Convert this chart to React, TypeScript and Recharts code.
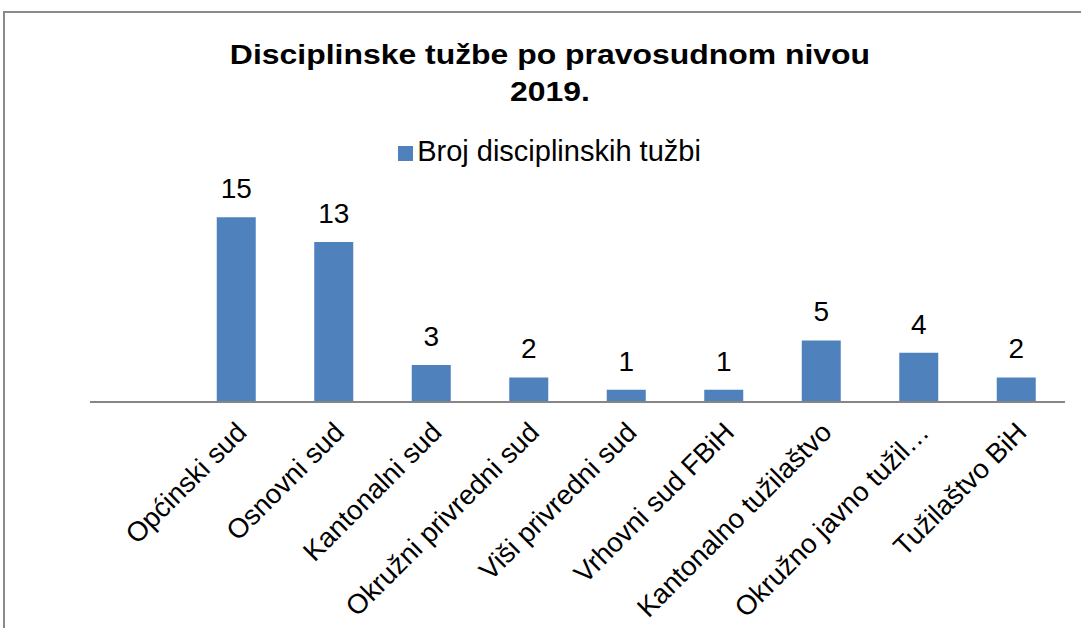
import React from "react";
import { BarChart, Bar, XAxis, YAxis, Legend, LabelList } from "recharts";

const categories = [
  "",
  "Općinski sud",
  "Osnovni sud",
  "Kantonalni sud",
  "Okružni privredni sud",
  "Viši privredni sud",
  "Vrhovni sud FBiH",
  "Kantonalno tužilaštvo",
  "Okružno javno tužil…",
  "Tužilaštvo BiH",
];
const counts = [null, 15, 13, 3, 2, 1, 1, 5, 4, 2];
const seriesName = "Broj disciplinskih tužbi";

const data = categories.map((name, i) => ({ name, value: counts[i] }));

const FONT = "'Liberation Sans', Arial, sans-serif";

function AngledTick(props: any) {
  const { x, y, payload } = props;
  return (
    <g transform={`translate(${x + 12},${y + 24})`}>
      <text
        x={0}
        y={0}
        textAnchor="end"
        transform="rotate(-45)"
        fontSize={27.5}
        fontFamily={FONT}
        fill="#000"
      >
        {payload.value}
      </text>
    </g>
  );
}

function ValueLabel(props: any) {
  const { x, y, width, value } = props;
  if (value === null || value === undefined) return null;
  return (
    <text
      x={x + width / 2}
      y={y - 19}
      textAnchor="middle"
      fontSize={28}
      fontFamily={FONT}
      fill="#000"
    >
      {value}
    </text>
  );
}

export default function App() {
  return (
    <div
      style={{
        position: "absolute",
        left: 0,
        top: 0,
        width: 1081,
        height: 628,
        overflow: "hidden",
        background: "#fff",
        fontFamily: FONT,
      }}
    >
      <div
        style={{
          position: "absolute",
          left: 3,
          top: 11,
          width: 1200,
          height: 800,
          border: "2px solid #8a8a8a",
        }}
      />
      <div
        style={{
          position: "absolute",
          left: 0,
          top: 36,
          width: 1100,
          textAlign: "center",
          fontWeight: "bold",
          fontSize: 28,
          lineHeight: "37px",
          color: "#000",
          transform: "scaleX(1.14)",
          transformOrigin: "550px 0",
        }}
      >
        Disciplinske tužbe po pravosudnom nivou
        <br />
        2019.
      </div>
      <BarChart
        width={1081}
        height={628}
        data={data}
        margin={{ top: 205, right: 16, bottom: 0, left: 90 }}
        barCategoryGap="30%"
        style={{ position: "absolute", left: 0, top: 0 }}
      >
        <XAxis
          dataKey="name"
          interval={0}
          tickLine={false}
          axisLine={{ stroke: "#868686", strokeWidth: 2 }}
          height={226}
          tick={<AngledTick />}
        />
        <YAxis hide domain={[0, 16]} />
        <Legend
          layout="horizontal"
          verticalAlign="middle"
          align="center"
          iconType="square"
          iconSize={15}
          wrapperStyle={{
            top: 135,
            left: 14,
            width: 1081,
            fontSize: 29,
            color: "#000",
          }}
          formatter={(v: string) => <span style={{ color: "#000" }}>{v}</span>}
        />
        <Bar
          dataKey="value"
          name={seriesName}
          fill="#4f81bd"
          isAnimationActive={false}
        >
          <LabelList dataKey="value" content={<ValueLabel />} />
        </Bar>
      </BarChart>
    </div>
  );
}
